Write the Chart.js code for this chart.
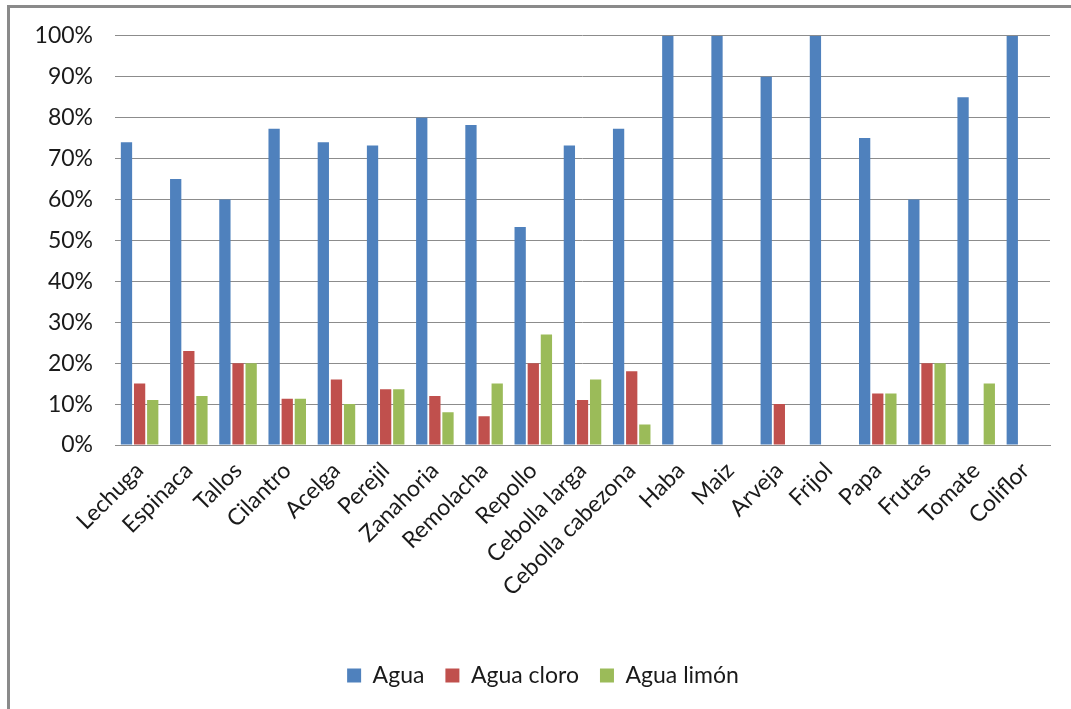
<!DOCTYPE html>
<html>
<head>
<meta charset="utf-8">
<script src="https://cdn.jsdelivr.net/npm/chart.js@4"></script>
<style>
  html, body { margin: 0; padding: 0; background: #fff; }
  #wrap { position: absolute; left: 0; top: 0; width: 1071px; height: 709px; }
  #frame {
    position: absolute; left: 7px; top: 5px; right: 0; bottom: 0;
    border-left: 3px solid #8a8a8a; border-top: 3px solid #8a8a8a;
    pointer-events: none;
  }
</style>
</head>
<body>
<div id="wrap">
  <canvas id="veg-chart" width="1071" height="709"></canvas>
  <div id="frame"></div>
</div>
<script>
'use strict';

// Percent of samples per product and washing method
var productos = ['Lechuga', 'Espinaca', 'Tallos', 'Cilantro', 'Acelga', 'Perejil',
  'Zanahoria', 'Remolacha', 'Repollo', 'Cebolla larga', 'Cebolla cabezona', 'Haba',
  'Maiz', 'Arveja', 'Frijol', 'Papa', 'Frutas', 'Tomate', 'Coliflor'];

var agua = [74, 65, 60, 77.3, 74, 73.2, 80, 78.2, 53.3, 73.2, 77.3, 100,
  100, 90, 100, 75, 60, 85, 100];
var aguaCloro = [15, 23, 20, 11.3, 16, 13.6, 12, 7, 20, 11, 18, 0,
  0, 10, 0, 12.6, 20, 0, 0];
var aguaLimon = [11, 12, 20, 11.3, 10, 13.6, 8, 15, 27, 16, 5, 0,
  0, 0, 0, 12.6, 20, 15, 0];

var yTicks = [0, 10, 20, 30, 40, 50, 60, 70, 80, 90, 100];

var font = 'Lato, "DejaVu Sans", sans-serif';

function serie(label, values, color) {
  return {
    label: label,
    data: values,
    backgroundColor: color,
    borderWidth: 0,
    categoryPercentage: 0.8,
    barPercentage: 0.86
  };
}

var ctx = document.getElementById('veg-chart').getContext('2d');

var vegChart = new Chart(ctx, {
  type: 'bar',
  data: {
    labels: productos,
    datasets: [
      serie('Agua', agua, '#4f81bd'),
      serie('Agua cloro', aguaCloro, '#c0504d'),
      serie('Agua limón', aguaLimon, '#9bbb59')
    ]
  },
  options: {
    responsive: false,
    animation: false,
    layout: { padding: { left: 36, top: 35, right: 21, bottom: 12 } },
    plugins: {
      tooltip: { enabled: false },
      legend: {
        position: 'bottom',
        labels: {
          font: { family: font, size: 23 },
          color: '#1a1a1a',
          boxWidth: 14,
          boxHeight: 14,
          padding: 21
        }
      }
    },
    scales: {
      x: {
        grid: { display: false },
        border: { display: true, color: '#8c8c8c', width: 1 },
        ticks: {
          font: { family: font, size: 23 },
          color: '#1a1a1a',
          minRotation: 45,
          maxRotation: 45,
          autoSkip: false,
          padding: 4
        },
        afterFit: function (scale) { scale.height = 198; }
      },
      y: {
        min: 0,
        max: 100,
        afterBuildTicks: function (scale) {
          scale.ticks = yTicks.map(function (v) { return { value: v }; });
        },
        grid: { color: '#8c8c8c', lineWidth: 1, drawTicks: false },
        border: { display: false },
        ticks: {
          font: { family: font, size: 23 },
          color: '#1a1a1a',
          padding: 22,
          callback: function (v) { return v + '%'; }
        },
        afterFit: function (scale) { scale.width = 79; }
      }
    }
  }
});
</script>
</body>
</html>
